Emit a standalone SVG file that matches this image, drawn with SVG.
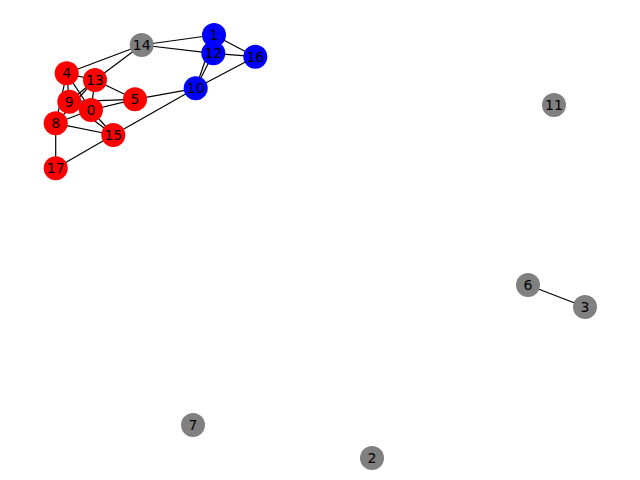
<svg xmlns="http://www.w3.org/2000/svg" width="640" height="480" viewBox="0 0 640 480">
<style>
.e{stroke:#000;stroke-width:1.2;fill:none}
.r{fill:#ff0000}.b{fill:#0000ff}.g{fill:#808080}
text{font-family:"DejaVu Sans",sans-serif;font-size:14px;fill:#000;text-anchor:middle}
</style>
<rect width="640" height="480" fill="#fff"/>
<g id="edges" class="e">
<line x1="141.7" y1="45" x2="214" y2="35"/>
<line x1="141.7" y1="45" x2="213.3" y2="53.3"/>
<line x1="141.7" y1="45" x2="66.7" y2="73.3"/>
<line x1="141.7" y1="45" x2="95" y2="80"/>
<line x1="214" y1="35" x2="255.3" y2="56.7"/>
<line x1="213.3" y1="53.3" x2="255.3" y2="56.7"/>
<line x1="214" y1="35" x2="195.7" y2="88.3"/>
<line x1="213.3" y1="53.3" x2="195.7" y2="88.3"/>
<line x1="195.7" y1="88.3" x2="255.3" y2="56.7"/>
<line x1="195.7" y1="88.3" x2="135" y2="99.3"/>
<line x1="195.7" y1="88.3" x2="113.3" y2="135"/>
<line x1="66.7" y1="73.3" x2="95" y2="80"/>
<line x1="66.7" y1="73.3" x2="69.3" y2="101.7"/>
<line x1="66.7" y1="73.3" x2="55.7" y2="123.3"/>
<line x1="66.7" y1="73.3" x2="91" y2="110"/>
<line x1="95" y1="80" x2="69.3" y2="101.7"/>
<line x1="95" y1="80" x2="55.7" y2="123.3"/>
<line x1="95" y1="80" x2="91" y2="110"/>
<line x1="95" y1="80" x2="135" y2="99.3"/>
<line x1="69.3" y1="101.7" x2="135" y2="99.3"/>
<line x1="91" y1="110" x2="135" y2="99.3"/>
<line x1="55.7" y1="123.3" x2="91" y2="110"/>
<line x1="55.7" y1="123.3" x2="113.3" y2="135"/>
<line x1="91" y1="110" x2="113.3" y2="135"/>
<line x1="69.3" y1="101.7" x2="113.3" y2="135"/>
<line x1="55.7" y1="123.3" x2="55.7" y2="168.3"/>
<line x1="55.7" y1="168.3" x2="113.3" y2="135"/>
<line x1="528" y1="285" x2="585" y2="307"/>
</g>
<g id="n14"><circle class="g" cx="141.7" cy="45" r="12"/><text x="141.7" y="50">14</text></g>
<g id="n1"><circle class="b" cx="214" cy="35" r="12"/><text x="214" y="40">1</text></g>
<g id="n12"><circle class="b" cx="213.3" cy="53.3" r="12"/><text x="213.3" y="58.3">12</text></g>
<g id="n16"><circle class="b" cx="255.3" cy="56.7" r="12"/><text x="255.3" y="61.7">16</text></g>
<g id="n10"><circle class="b" cx="195.7" cy="88.3" r="12"/><text x="195.7" y="93.3">10</text></g>
<g id="n4"><circle class="r" cx="66.7" cy="73.3" r="12"/><text x="66.7" y="78.3">4</text></g>
<g id="n13"><circle class="r" cx="95" cy="80" r="12"/><text x="95" y="85">13</text></g>
<g id="n9"><circle class="r" cx="69.3" cy="101.7" r="12"/><text x="69.3" y="106.7">9</text></g>
<g id="n0"><circle class="r" cx="91" cy="110" r="12"/><text x="91" y="115">0</text></g>
<g id="n5"><circle class="r" cx="135" cy="99.3" r="12"/><text x="135" y="104.3">5</text></g>
<g id="n8"><circle class="r" cx="55.7" cy="123.3" r="12"/><text x="55.7" y="128.3">8</text></g>
<g id="n15"><circle class="r" cx="113.3" cy="135" r="12"/><text x="113.3" y="140">15</text></g>
<g id="n17"><circle class="r" cx="55.7" cy="168.3" r="12"/><text x="55.7" y="173.3">17</text></g>
<g id="n11"><circle class="g" cx="554" cy="105" r="12"/><text x="554" y="110">11</text></g>
<g id="n6"><circle class="g" cx="528" cy="285" r="12"/><text x="528" y="290">6</text></g>
<g id="n3"><circle class="g" cx="585" cy="307" r="12"/><text x="585" y="312">3</text></g>
<g id="n7"><circle class="g" cx="193" cy="425" r="12"/><text x="193" y="430">7</text></g>
<g id="n2"><circle class="g" cx="372" cy="458" r="12"/><text x="372" y="463">2</text></g>
</svg>
